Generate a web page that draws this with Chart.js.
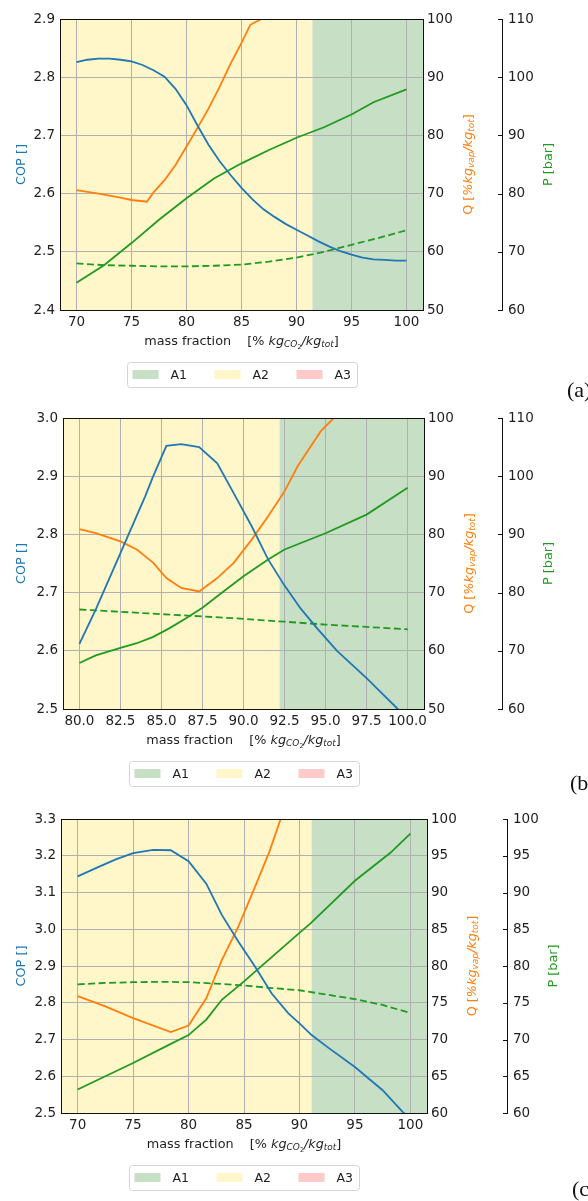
<!DOCTYPE html>
<html>
<head>
<meta charset="utf-8">
<script src="https://cdn.jsdelivr.net/npm/chart.js@4.4.0/dist/chart.umd.min.js"></script>
<style>
  body{margin:0;width:588px;height:1201px;overflow:hidden;background:#fff;position:relative}
  canvas{position:absolute;left:0}
  .tag{position:absolute;font-family:'Liberation Serif',serif;font-size:22px;line-height:22px;color:#111;white-space:nowrap}
</style>
</head>
<body>
<canvas id="ca" width="588" height="395" style="top:0"></canvas>
<canvas id="cb" width="588" height="400" style="top:395px"></canvas>
<canvas id="cc" width="588" height="406" style="top:795px"></canvas>
<div class="tag" style="left:567px;top:379px">(a)</div>
<div class="tag" style="left:570px;top:772px">(b)</div>
<div class="tag" style="left:572px;top:1178px">(c)</div>
<script>
// ---- panel (a) ----
const copA_x=[70,71,72,73,74,75,76,77,78,79,80,81,82,83,84,85,86,87,88,89,90,91,92,93,94,95,96,97,98,99,100];
const copA=[2.826,2.830,2.832,2.832,2.830,2.827,2.821,2.812,2.801,2.780,2.752,2.717,2.684,2.656,2.632,2.610,2.590,2.573,2.560,2.548,2.538,2.528,2.518,2.509,2.501,2.495,2.490,2.487,2.486,2.485,2.485];
const qA_x=[70,72,74,75,76.4,77,78,79,80,81,82,83,84,85,85.8,87,88];
const qA=[70.6,70.0,69.3,68.9,68.6,70.2,72.3,74.9,78.1,81.3,84.6,88.3,92.3,95.9,99.0,100.2,101.2];
const pA_x=[70,72.5,75,77.5,80,82.5,85,87.5,90,92.5,95,97,100];
const pA=[64.7,67.7,71.5,75.5,79.2,82.6,85.2,87.5,89.6,91.4,93.6,95.7,97.9];
const pLowA_x=[70,72.5,75,77.5,80,82.5,85,87.5,90,92.5,95,97.5,100];
const pLowA=[68.0,67.7,67.6,67.5,67.5,67.6,67.8,68.3,69.0,70.0,71.2,72.4,73.7];
const xTicksA=[70,75,80,85,90,95,100];
const copTicksA=[2.4,2.5,2.6,2.7,2.8,2.9];
const qTicksA=[50,60,70,80,90,100];
const pTicksA=[60,70,80,90,100,110];
const zoneEdgesA=[68.5,91.45,101.5];

// ---- panel (b) ----
const copB_x=[80,81,82.5,84,84.5,85.3,86.2,87.3,88.4,89.4,90.5,91.5,92.5,93.5,94.5,95.7,97.5,99.4,100];
const copB=[2.612,2.671,2.768,2.865,2.900,2.952,2.955,2.950,2.922,2.871,2.814,2.757,2.712,2.672,2.638,2.600,2.553,2.500,2.485];
const qB_x=[80,81,82.5,83.5,84.5,85.3,86.2,87.3,88.4,89.4,90.5,91.5,92.5,93.3,94.7,95.5,96];
const qB=[80.9,80.2,78.8,77.4,75.1,72.5,70.8,70.2,72.5,75.1,79.1,83.1,87.4,91.7,97.7,100,101.5];
const pB_x=[80,81,82.5,83.5,84.5,85.5,86.5,87.5,88.5,90,91.5,92.5,95,97.5,100];
const pB=[67.9,69.2,70.5,71.3,72.4,73.9,75.6,77.4,79.6,82.8,85.7,87.4,90.2,93.4,98.0];
const pLowB_x=[80,82.5,85,87.5,90,92.5,95,97.5,100];
const pLowB=[77.1,76.7,76.3,75.9,75.5,75.0,74.5,74.1,73.7];
const xTicksB=[80,82.5,85,87.5,90,92.5,95,97.5,100];
const copTicksB=[2.5,2.6,2.7,2.8,2.9,3.0];
const qTicksB=[50,60,70,80,90,100];
const pTicksB=[60,70,80,90,100,110];
const zoneEdgesB=[79,92.2,101];

// ---- panel (c) ----
const copC_x=[70,72,73.5,75,76.8,78.4,80,81.6,83,84.5,86,87.5,89,90,91.1,92.5,95,97.5,99.3,100];
const copC=[3.144,3.171,3.191,3.207,3.216,3.215,3.185,3.124,3.039,2.966,2.898,2.825,2.771,2.744,2.712,2.680,2.625,2.562,2.503,2.485];
const qC_x=[70,72.5,75,78.4,80,81.6,83,84.5,86,87.3,88.3,89];
const qC=[75.9,74.5,72.9,71.0,71.9,75.6,80.8,85.4,90.8,95.6,100,102.5];
const pC_x=[70,75,78.4,80,81.6,83,85,90,91,95,98.2,100];
const pC=[63.2,66.8,69.4,70.6,72.7,75.4,77.9,84.5,85.8,91.6,95.4,98.0];
const pLowC_x=[70,72.5,75,77.5,80,82.5,85,87.5,90,92.5,95,97.5,100];
const pLowC=[77.5,77.7,77.8,77.85,77.8,77.6,77.35,77.0,76.7,76.1,75.5,74.7,73.6];
const xTicksC=[70,75,80,85,90,95,100];
const copTicksC=[2.5,2.6,2.7,2.8,2.9,3.0,3.1,3.2,3.3];
const qTicksC=[60,65,70,75,80,85,90,95,100];
const pTicksC=[60,65,70,75,80,85,90,95,100];
const zoneEdgesC=[68.5,91.1,101.5];

const zoneNames=['A2','A1'];            // left to right inside each panel
const legendNames=['A1','A2','A3'];
const zoneColors={A1:'#c7dfc5',A2:'#fff6c9',A3:'#ffcaca'};

const BLUE='#1f77b4', ORANGE='#ff7f0e', GREEN='#219a21', GRID='#b0b0b0', INK='#1e1e1e';
const TICKFONT={family:'DejaVu Sans',size:13.5};
const TITLE=12.8;
Chart.defaults.font.family='DejaVu Sans';

const pts=(xs,ys)=>xs.map((x,i)=>({x:x,y:ys[i]}));
const tickList=arr=>s=>{s.ticks=arr.map(v=>({value:v}));};

// rich text: [text, kind] kind n=normal i=italic s=subscript ss=sub-subscript
function fontFor(kind,size){
  if(kind==='n') return size+'px "DejaVu Sans"';
  if(kind==='i') return 'oblique '+size+'px "DejaVu Sans"';
  if(kind==='s') return 'oblique '+(size*0.7)+'px "DejaVu Sans"';
  return (size*0.5)+'px "DejaVu Sans"';
}
function richWidth(ctx,parts,size){
  let w=0;
  parts.forEach(p=>{ctx.font=fontFor(p[1],size);w+=ctx.measureText(p[0]).width;});
  return w;
}
function drawRich(ctx,parts,x,y,rot,size,color){
  ctx.save();
  ctx.translate(x,y);ctx.rotate(rot);
  ctx.fillStyle=color;ctx.textBaseline='alphabetic';ctx.textAlign='left';
  let cx=-richWidth(ctx,parts,size)/2;
  const base=size*0.36;
  parts.forEach(p=>{
    ctx.font=fontFor(p[1],size);
    const dy=p[1]==='s'?size*0.22:p[1]==='ss'?size*0.38:0;
    ctx.fillText(p[0],cx,base+dy);
    cx+=ctx.measureText(p[0]).width;
  });
  ctx.restore();
}

const xTitle=[['mass fraction    [% ','n'],['kg','i'],['CO','s'],['2','ss'],['/kg','i'],['tot','s'],[']','n']];
const qTitle=[['Q [','n'],['%kg','i'],['vap','s'],['/kg','i'],['tot','s'],[']','n']];
const pTitle=[['P [bar]','n']];
const copTitle=[['COP []','n']];

function deco(d){
  return {
    id:'deco',
    beforeDraw(chart){
      const {ctx,chartArea:a,scales}=chart;
      ctx.save();
      for(let i=0;i<zoneNames.length;i++){
        const x0=Math.max(a.left,scales.x.getPixelForValue(d.zones[i]));
        const x1=Math.min(a.right,scales.x.getPixelForValue(d.zones[i+1]));
        ctx.fillStyle=zoneColors[zoneNames[i]];
        ctx.fillRect(x0,a.top,x1-x0,a.bottom-a.top);
      }
      ctx.restore();
    },
    afterDraw(chart){
      const {ctx,chartArea:a,scales}=chart;
      ctx.save();
      // frame
      ctx.strokeStyle='#111';ctx.lineWidth=1;
      ctx.strokeRect(Math.round(a.left)+0.5,Math.round(a.top)+0.5,Math.round(a.right-a.left),Math.round(a.bottom-a.top));
      // inward ticks on the P spine
      const ps=scales.p;
      ctx.beginPath();
      ps.ticks.forEach(t=>{
        const y=Math.round(ps.getPixelForValue(t.value))+0.5;
        ctx.moveTo(ps.left-4,y);ctx.lineTo(ps.left,y);
      });
      ctx.stroke();
      // axis titles
      const midY=(a.top+a.bottom)/2, midX=(a.left+a.right)/2;
      drawRich(ctx,copTitle,20,midY,-Math.PI/2,TITLE,BLUE);
      drawRich(ctx,qTitle,a.right+44,midY,-Math.PI/2,TITLE,ORANGE);
      drawRich(ctx,pTitle,ps.left+45,midY,-Math.PI/2,TITLE,GREEN);
      drawRich(ctx,xTitle,midX,a.bottom+30,0,TITLE,INK);
      // legend box
      const bw=230,bh=25,bx=Math.round(midX-bw/2)+0.5,by=Math.round(a.bottom+52)+0.5;
      ctx.strokeStyle='#d4d4d4';ctx.fillStyle='rgba(255,255,255,0.8)';
      ctx.beginPath();
      if(ctx.roundRect) ctx.roundRect(bx,by,bw,bh,3); else ctx.rect(bx,by,bw,bh);
      ctx.fill();ctx.stroke();
      ctx.font='12.5px "DejaVu Sans"';ctx.textBaseline='middle';ctx.textAlign='left';
      legendNames.forEach((n,i)=>{
        ctx.fillStyle=zoneColors[n];
        ctx.fillRect(bx+5+i*82,by+7.5,26,9);
        ctx.fillStyle=INK;
        ctx.fillText(n,bx+43+i*82,by+bh/2+0.5);
      });
      ctx.restore();
    }
  };
}

function makePanel(id,d,g){
  const line=(xs,ys,color,axis,dash)=>({data:pts(xs,ys),yAxisID:axis,borderColor:color,borderWidth:1.8,
    borderDash:dash||[],pointRadius:0,tension:0,fill:false});
  const yAxis=(pos,r,ticks,width,fmt,grid,pad)=>({
    position:pos,min:r[0],max:r[1],afterBuildTicks:tickList(ticks),afterFit:s=>{s.width=width;},
    ticks:{font:TICKFONT,color:INK,padding:pad,callback:fmt},
    grid:{display:grid,drawOnChartArea:grid,drawTicks:false,color:GRID,lineWidth:1},
    border:{display:false}
  });
  return new Chart(document.getElementById(id),{
    type:'line',
    data:{datasets:[
      line(d.copX,d.cop,BLUE,'cop'),
      line(d.qX,d.q,ORANGE,'q'),
      line(d.pX,d.p,GREEN,'p'),
      line(d.pLowX,d.pLow,GREEN,'p',[7,3.5])
    ]},
    options:{
      responsive:false,animation:false,events:[],
      layout:{padding:{top:g.top,left:0,right:g.padRight,bottom:0}},
      plugins:{legend:{display:false},tooltip:{enabled:false}},
      scales:{
        x:{type:'linear',min:d.xr[0],max:d.xr[1],afterBuildTicks:tickList(d.xt),afterFit:s=>{s.height=g.xh;},
          ticks:{font:TICKFONT,color:INK,padding:4,callback:v=>d.xfmt(v)},
          grid:{drawTicks:false,color:GRID,lineWidth:1},border:{display:false}},
        cop:yAxis('left',d.copR,d.copT,g.left,v=>v.toFixed(1),true,5),
        q:yAxis('right',d.qR,d.qT,g.qw,v=>String(v),false,4),
        p:Object.assign(yAxis('right',d.pR,d.pT,g.pw,v=>String(v),false,6),{border:{display:true,color:'#111',width:1}})
      }
    },
    plugins:[deco(d)]
  });
}

makePanel('ca',{copX:copA_x,cop:copA,qX:qA_x,q:qA,pX:pA_x,p:pA,pLowX:pLowA_x,pLow:pLowA,
  xr:[68.5,101.5],xt:xTicksA,xfmt:v=>String(v),copR:[2.4,2.9],copT:copTicksA,qR:[50,100],qT:qTicksA,pR:[60,110],pT:pTicksA,zones:zoneEdgesA},
  {top:19,left:60,xh:85,qw:79,pw:60,padRight:588-423-79-60});
makePanel('cb',{copX:copB_x,cop:copB,qX:qB_x,q:qB,pX:pB_x,p:pB,pLowX:pLowB_x,pLow:pLowB,
  xr:[79,101],xt:xTicksB,xfmt:v=>v.toFixed(1),copR:[2.5,3.0],copT:copTicksB,qR:[50,100],qT:qTicksB,pR:[60,110],pT:pTicksB,zones:zoneEdgesB},
  {top:23,left:63,xh:86,qw:78,pw:60,padRight:588-424-78-60});
makePanel('cc',{copX:copC_x,cop:copC,qX:qC_x,q:qC,pX:pC_x,p:pC,pLowX:pLowC_x,pLow:pLowC,
  xr:[68.5,101.5],xt:xTicksC,xfmt:v=>String(v),copR:[2.5,3.3],copT:copTicksC,qR:[60,100],qT:qTicksC,pR:[60,100],pT:pTicksC,zones:zoneEdgesC},
  {top:24,left:61,xh:88,qw:80,pw:60,padRight:588-427-80-60});
</script>
</body>
</html>
